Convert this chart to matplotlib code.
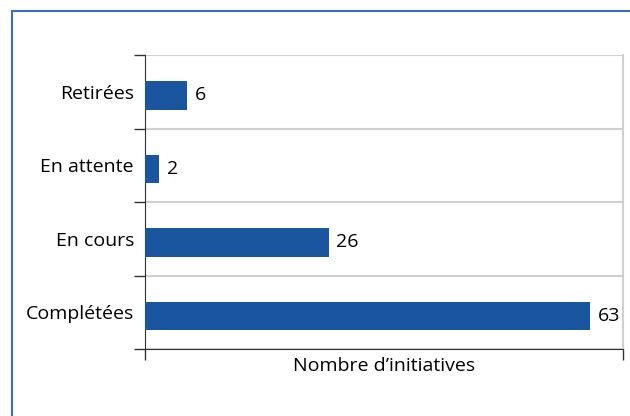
import matplotlib
matplotlib.use('Agg')
import matplotlib.pyplot as plt
from matplotlib.patches import Rectangle

# Statut des initiatives
categories = ['Complétées', 'En cours', 'En attente', 'Retirées']
valeurs = [63, 26, 2, 6]

couleur_barre = '#1a56a0'
couleur_cadre = '#3b6cc0'
taille = 14

plt.rcParams['font.family'] = ['Open Sans', 'DejaVu Sans']

fig = plt.figure(figsize=(6.3, 4.16), dpi=100)
ax = fig.add_axes([145 / 630, 1 - 349 / 416, 478 / 630, 294 / 416])

y = range(len(categories))
ax.barh([i - 0.05 for i in y], valeurs, height=0.39, color=couleur_barre, zorder=3)
for i, v in zip(y, valeurs):
	ax.text(v + 1.1, i - 0.05, str(v), va='center', ha='left', fontsize=taille)

ax.set_xlim(0, 67.7)
ax.set_ylim(-0.5, len(categories) - 0.5)

# graduations aux limites des catégories
ax.set_yticks([i - 0.5 for i in range(len(categories) + 1)])
ax.set_yticklabels([])
ax.set_yticks(list(y), minor=True)
ax.set_yticklabels(categories, minor=True, fontsize=taille)
ax.tick_params(axis='y', which='minor', length=0, pad=8)
ax.tick_params(axis='y', which='major', length=8, width=1, color='#333333')
ax.yaxis.grid(True, which='major', color='#d0d0d0', linewidth=1.5, zorder=0)

ax.set_xticks([0, 67.7])
ax.set_xticklabels([])
ax.tick_params(axis='x', length=8, width=1, color='#333333')
ax.set_xlabel('Nombre d\u2019initiatives', fontsize=taille, labelpad=-6)

ax.spines['left'].set_color('#333333')
ax.spines['bottom'].set_color('#333333')
ax.spines['top'].set_visible(False)
ax.spines['right'].set_color('#d0d0d0')
ax.spines['right'].set_linewidth(1.5)

# cadre bleu autour du graphique
fig.patches.append(Rectangle((12 / 630, -0.1), 1.0, 1 - 11 / 416 + 0.1,
	transform=fig.transFigure, fill=False, edgecolor=couleur_cadre, linewidth=1.5))

plt.savefig('out.png', dpi=100)
